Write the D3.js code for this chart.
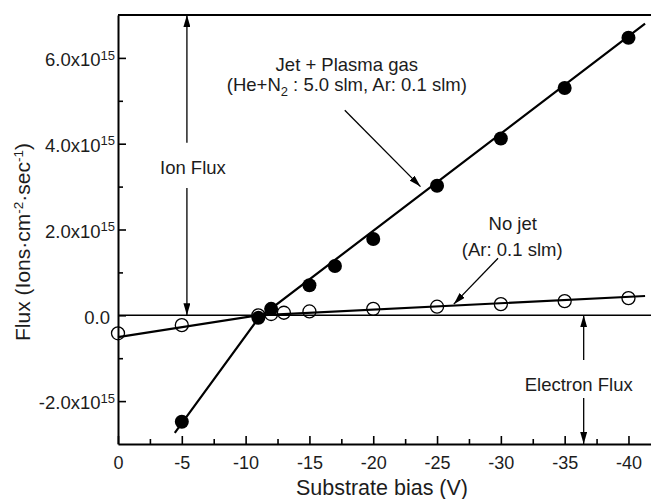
<!DOCTYPE html>
<html>
<head>
<meta charset="utf-8">
<script src="https://cdn.jsdelivr.net/npm/d3@7/dist/d3.min.js"></script>
<style>
  body { margin: 0; background: #fff; }
  svg { display: block; font-family: "Liberation Sans", Arial, Helvetica, sans-serif; }
</style>
</head>
<body>
<div id="chart"></div>
<script>
// Jet + Plasma gas (filled circles), flux in units of 1e15
var jetBias = [-5, -11, -12, -15, -17, -20, -25, -30, -35, -40];
var jetFlux = [-2.48, -0.06, 0.15, 0.70, 1.15, 1.78, 3.02, 4.12, 5.30, 6.47];

// No jet (open circles)
var noJetBias = [0, -5, -11, -12, -13, -15, -20, -25, -30, -35, -40];
var noJetFlux = [-0.42, -0.23, 0.00, 0.03, 0.06, 0.09, 0.15, 0.20, 0.26, 0.33, 0.40];

// fitted lines, two segments each (break at the floating potential)
var jetFitBias = [-4.45, -11, -41.3];
var jetFitFlux = [-2.74, -0.07, 6.80];
var noJetFitBias = [0, -11, -41.3];
var noJetFitFlux = [-0.51, 0.00, 0.45];

// ticks
var xTicks = [0, -5, -10, -15, -20, -25, -30, -35, -40];
var xTickLabels = ["0", "-5", "-10", "-15", "-20", "-25", "-30", "-35", "-40"];
var xMinor = [-2.5, -7.5, -12.5, -17.5, -22.5, -27.5, -32.5, -37.5];
var yTicks = [-2, 0, 2, 4, 6];
var yTickMantissa = ["-2.0x10", "0.0", "2.0x10", "4.0x10", "6.0x10"];
var yTickExponent = ["15", "", "15", "15", "15"];
var yMinor = [-1, 1, 3, 5];

var svgWidth = 651;
var svgHeight = 499;

var svg = d3.select("#chart")
  .append("svg")
  .attr("width", svgWidth)
  .attr("height", svgHeight);

svg.append("rect").attr("width", svgWidth).attr("height", svgHeight).attr("fill", "#fff");

var x = d3.scaleLinear().domain([0, -42]).range([118, 654]);
var y = d3.scaleLinear().domain([-3, 7]).range([444, 15]);

var ink = "#000";
var textInk = "#1c1c1c";

// arrow marker
svg.append("defs").append("marker")
  .attr("id", "arrow")
  .attr("markerUnits", "userSpaceOnUse")
  .attr("viewBox", "0 0 12 7")
  .attr("refX", 12)
  .attr("refY", 3.5)
  .attr("markerWidth", 12)
  .attr("markerHeight", 7)
  .attr("orient", "auto")
  .append("path")
  .attr("d", "M0,0 L12,3.5 L0,7 Z")
  .attr("fill", ink);

// top border and zero line
svg.append("line")
  .attr("x1", x(0)).attr("x2", svgWidth)
  .attr("y1", y(7)).attr("y2", y(7))
  .attr("stroke", ink).attr("stroke-width", 2);

svg.append("line")
  .attr("x1", x(0)).attr("x2", svgWidth)
  .attr("y1", y(0)).attr("y2", y(0))
  .attr("stroke", ink).attr("stroke-width", 1.4);

// axes
var xAxis = d3.axisBottom(x)
  .tickValues(xTicks)
  .tickFormat(function(d, i) { return xTickLabels[i]; })
  .tickSizeInner(-8)
  .tickSizeOuter(0)
  .tickPadding(12);

var xAxisMinor = d3.axisBottom(x)
  .tickValues(xMinor)
  .tickFormat("")
  .tickSizeInner(-5)
  .tickSizeOuter(0);

var yAxis = d3.axisLeft(y)
  .tickValues(yTicks)
  .tickFormat("")
  .tickSizeInner(-8)
  .tickSizeOuter(0)
  .tickPadding(3);

var yAxisMinor = d3.axisLeft(y)
  .tickValues(yMinor)
  .tickFormat("")
  .tickSizeInner(-5)
  .tickSizeOuter(0);

svg.append("g").attr("transform", "translate(0," + y(-3) + ")").call(xAxisMinor)
  .call(g => g.select(".domain").remove());
var gx = svg.append("g").attr("transform", "translate(0," + y(-3) + ")").call(xAxis);

svg.append("g").attr("transform", "translate(" + x(0) + ",0)").call(yAxisMinor)
  .call(g => g.select(".domain").remove());
var gy = svg.append("g").attr("transform", "translate(" + x(0) + ",0)").call(yAxis);

svg.selectAll(".tick line").attr("stroke", ink).attr("stroke-width", 1.6);
gx.select(".domain").attr("stroke", ink).attr("stroke-width", 2);
gy.select(".domain").attr("stroke", ink).attr("stroke-width", 2);

gx.selectAll("text")
  .attr("font-size", 18)
  .attr("font-family", "Liberation Sans, Arial, sans-serif")
  .attr("fill", textInk);

gy.selectAll(".tick text")
  .attr("font-size", 18.5)
  .attr("font-family", "Liberation Sans, Arial, sans-serif")
  .attr("fill", textInk)
  .attr("dy", "0.42em")
  .each(function(d, i) {
    var t = d3.select(this);
    t.append("tspan").text(yTickMantissa[i]);
    if (yTickExponent[i]) {
      t.append("tspan").attr("font-size", 13).attr("dy", -6.5).text(yTickExponent[i]);
    } else {
      t.attr("dx", -5);
    }
  });

// axis titles
svg.append("text")
  .attr("x", 382)
  .attr("y", 495)
  .attr("text-anchor", "middle")
  .attr("font-size", 21.5)
  .attr("fill", textInk)
  .text("Substrate bias (V)");

var yTitle = svg.append("text")
  .attr("transform", "translate(30,242) rotate(-90)")
  .attr("text-anchor", "middle")
  .attr("font-size", 21)
  .attr("fill", textInk);
yTitle.append("tspan").text("Flux (Ions\u00b7cm");
yTitle.append("tspan").attr("font-size", 13.5).attr("dy", -7).text("-2");
yTitle.append("tspan").attr("dy", 7).text("\u00b7sec");
yTitle.append("tspan").attr("font-size", 13.5).attr("dy", -7).text("-1");
yTitle.append("tspan").attr("dy", 7).text(")");

// fit lines
var fitLine = d3.line()
  .x(function(d) { return x(d[0]); })
  .y(function(d) { return y(d[1]); });

svg.append("path")
  .datum(d3.zip(noJetFitBias, noJetFitFlux))
  .attr("d", fitLine)
  .attr("fill", "none")
  .attr("stroke", ink)
  .attr("stroke-width", 2.2);

svg.append("path")
  .datum(d3.zip(jetFitBias, jetFitFlux))
  .attr("d", fitLine)
  .attr("fill", "none")
  .attr("stroke", ink)
  .attr("stroke-width", 2.2);

// points
svg.append("g").selectAll("circle")
  .data(d3.zip(jetBias, jetFlux))
  .enter()
  .append("circle")
  .attr("cx", d => x(d[0]))
  .attr("cy", d => y(d[1]))
  .attr("r", 7)
  .attr("fill", ink);

svg.append("g").selectAll("circle")
  .data(d3.zip(noJetBias, noJetFlux))
  .enter()
  .append("circle")
  .attr("cx", d => x(d[0]))
  .attr("cy", d => y(d[1]))
  .attr("r", 6.5)
  .attr("fill", "none")
  .attr("stroke", ink)
  .attr("stroke-width", 1.3);

// annotations (placed in data coordinates)
function arrow(x1, y1, x2, y2) {
  svg.append("line")
    .attr("x1", x(x1)).attr("y1", y(y1))
    .attr("x2", x(x2)).attr("y2", y(y2))
    .attr("stroke", ink)
    .attr("stroke-width", 1.3)
    .attr("marker-end", "url(#arrow)");
}

function label(xv, yv, str) {
  return svg.append("text")
    .attr("x", x(xv))
    .attr("y", y(yv))
    .attr("text-anchor", "middle")
    .attr("font-size", 18.5)
    .attr("fill", textInk)
    .text(str);
}

// Ion Flux
arrow(-5.4, 4.02, -5.4, 7);
label(-5.87, 3.29, "Ion Flux");
arrow(-5.4, 2.97, -5.4, 0);

// Electron Flux
arrow(-36.49, -1.04, -36.49, 0);
label(-36.1, -1.76, "Electron Flux");
arrow(-36.49, -1.93, -36.49, -3);

// Jet + Plasma gas
label(-17.93, 5.69, "Jet + Plasma gas");
var jl = label(-17.93, 5.24, "");
jl.append("tspan").text("(He+N");
jl.append("tspan").attr("font-size", 13).attr("dy", 5).text("2");
jl.append("tspan").attr("dy", -5).text(" : 5.0 slm, Ar: 0.1 slm)");
arrow(-17.77, 4.78, -23.7, 3.0);

// No jet
label(-30.93, 1.99, "No jet");
label(-30.89, 1.38, "(Ar: 0.1 slm)");
arrow(-29.78, 1.33, -26.31, 0.26);
</script>
</body>
</html>
